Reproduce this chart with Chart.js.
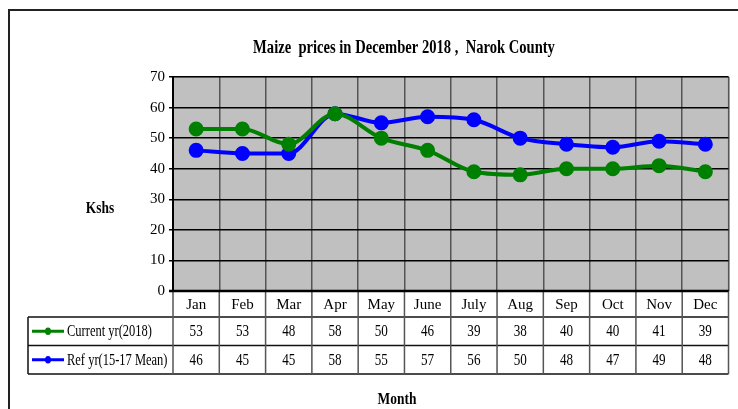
<!DOCTYPE html>
<html>
<head>
<meta charset="utf-8">
<script src="https://cdn.jsdelivr.net/npm/chart.js@4/dist/chart.umd.min.js"></script>
<style>
  html, body { margin: 0; padding: 0; background: #fff; }
  #wrap { width: 738px; height: 409px; }
</style>
</head>
<body>
<div id="wrap"><canvas id="c" width="738" height="409"></canvas></div>
<script>
var months = ['Jan', 'Feb', 'Mar', 'Apr', 'May', 'June', 'July', 'Aug', 'Sep', 'Oct', 'Nov', 'Dec'];
var currentYr = [53, 53, 48, 58, 50, 46, 39, 38, 40, 40, 41, 39];
var refYr = [46, 45, 45, 58, 55, 57, 56, 50, 48, 47, 49, 48];
var seriesNames = ['Current yr(2018)', 'Ref yr(15-17 Mean)'];
var seriesColors = ['#008000', '#0000ff'];
var yTicks = [0, 10, 20, 30, 40, 50, 60, 70];

var serif = '"Liberation Serif", "Times New Roman", serif';

// condensed text, like the narrow Times in the original
function txt(ctx, s, x, y, font, align, squeeze) {
    ctx.save();
    ctx.font = font;
    ctx.fillStyle = '#000';
    ctx.textBaseline = 'middle';
    ctx.textAlign = align || 'center';
    ctx.translate(x, y);
    ctx.scale(squeeze || 0.86, 1);
    ctx.fillText(s, 0, 0);
    ctx.restore();
}

var frame = {
    id: 'frame',
    beforeDraw: function (chart) {
        var ctx = chart.ctx;
        var a = chart.chartArea;
        ctx.save();
        ctx.fillStyle = '#c0c0c0';
        ctx.fillRect(a.left, a.top, a.right - a.left, a.bottom - a.top);
        // outer frame
        ctx.strokeStyle = '#222';
        ctx.lineWidth = 2;
        ctx.beginPath();
        ctx.moveTo(9, 420);
        ctx.lineTo(9, 10);
        ctx.lineTo(740, 10);
        ctx.stroke();
        // plot border (top / right)
        ctx.strokeStyle = '#a0a0a0';
        ctx.lineWidth = 1.5;
        ctx.beginPath();
        ctx.moveTo(a.left, a.top);
        ctx.lineTo(a.right, a.top);
        ctx.lineTo(a.right, a.bottom);
        ctx.stroke();
        ctx.restore();
    },
    afterDraw: function (chart) {
        var ctx = chart.ctx;
        var a = chart.chartArea;
        var x = chart.scales.x;
        var step = (a.right - a.left) / months.length;
        var rows = [a.bottom, 317, 345.5, 374];
        var tableLeft = 28;

        ctx.save();
        ctx.strokeStyle = '#111';
        ctx.lineWidth = 1.5;
        ctx.beginPath();
        // horizontal lines of the data table
        for (var r = 1; r < rows.length; r++) {
            ctx.moveTo(tableLeft, rows[r]);
            ctx.lineTo(a.right, rows[r]);
        }
        ctx.moveTo(tableLeft, rows[1]);
        ctx.lineTo(tableLeft, rows[3]);
        ctx.stroke();

        ctx.strokeStyle = '#555';
        ctx.beginPath();
        for (var i = 0; i <= months.length; i++) {
            var bx = a.left + i * step;
            ctx.moveTo(bx, a.bottom);
            ctx.lineTo(bx, rows[3]);
        }
        ctx.stroke();

        // x axis line
        ctx.strokeStyle = '#000';
        ctx.lineWidth = 2.5;
        ctx.beginPath();
        ctx.moveTo(a.left - 4, a.bottom);
        ctx.lineTo(a.right, a.bottom);
        ctx.stroke();

        var series = [currentYr, refYr];
        for (var s = 0; s < series.length; s++) {
            var cy = (rows[s + 1] + rows[s + 2]) / 2;
            ctx.strokeStyle = seriesColors[s];
            ctx.fillStyle = seriesColors[s];
            ctx.lineWidth = 3;
            ctx.beginPath();
            ctx.moveTo(32, cy);
            ctx.lineTo(64, cy);
            ctx.stroke();
            ctx.beginPath();
            ctx.ellipse(48, cy, 3, 3.8, 0, 0, Math.PI * 2);
            ctx.fill();
            txt(ctx, seriesNames[s], 67, cy + 1, '16px ' + serif, 'left', 0.78);
            for (var k = 0; k < months.length; k++) {
                txt(ctx, String(series[s][k]), x.getPixelForValue(k), cy + 1, '16px ' + serif, 'center', 0.82);
            }
        }

        txt(ctx, 'Maize  prices in December 2018 ,  Narok County', 404, 48, 'bold 18px ' + serif, 'center', 0.81);
        txt(ctx, 'Kshs', 100, 209, 'bold 16px ' + serif, 'center', 0.84);
        txt(ctx, 'Month', 397, 400, 'bold 16px ' + serif, 'center', 0.84);
        ctx.restore();
    }
};

new Chart(document.getElementById('c'), {
    type: 'line',
    data: {
        labels: months,
        datasets: [{
            label: seriesNames[0],
            data: currentYr,
            borderColor: seriesColors[0],
            backgroundColor: seriesColors[0],
            borderWidth: 4,
            pointRadius: 5.5,
            pointHoverRadius: 5.5,
            cubicInterpolationMode: 'monotone'
        }, {
            label: seriesNames[1],
            data: refYr,
            borderColor: seriesColors[1],
            backgroundColor: seriesColors[1],
            borderWidth: 4,
            pointRadius: 5.5,
            pointHoverRadius: 5.5,
            cubicInterpolationMode: 'monotone'
        }]
    },
    options: {
        responsive: false,
        animation: false,
        layout: { padding: { top: 77, right: 7, left: 0, bottom: 0 } },
        plugins: {
            legend: { display: false },
            title: { display: false },
            tooltip: { enabled: false }
        },
        scales: {
            x: {
                offset: true,
                grid: { offset: true, color: '#555', lineWidth: 1.5, drawTicks: false },
                border: { display: false },
                ticks: {
                    color: '#000',
                    font: { family: serif, size: 15 },
                    padding: 5,
                    maxRotation: 0,
                    autoSkip: false
                },
                afterFit: function (scale) { scale.height = 118; }
            },
            y: {
                min: 0,
                max: 70,
                afterBuildTicks: function (scale) {
                    scale.ticks = yTicks.map(function (v) { return { value: v }; });
                },
                grid: { color: '#000', lineWidth: 1.5, tickLength: 4 },
                border: { display: true, color: '#000', width: 2 },
                ticks: {
                    color: '#000',
                    font: { family: serif, size: 15 },
                    padding: 4
                },
                afterFit: function (scale) { scale.width = 173; }
            }
        }
    },
    plugins: [frame]
});
</script>
</body>
</html>
